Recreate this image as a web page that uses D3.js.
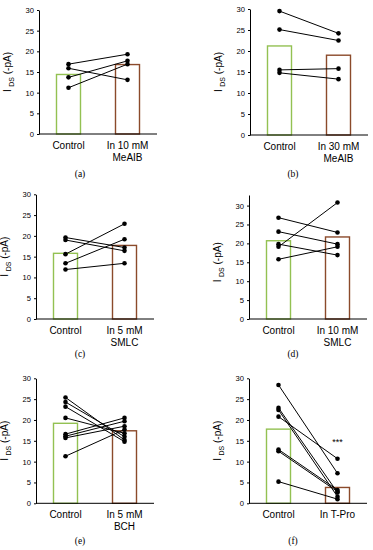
<!DOCTYPE html>
<html><head><meta charset="utf-8">
<script src="https://cdn.jsdelivr.net/npm/d3@7"></script>
<style>body{margin:0;background:#fff}svg{display:block}</style>
</head><body>
<script>
// ---- data ----
const panelLabels = ["(a)", "(b)", "(c)", "(d)", "(e)", "(f)"];
const groups = ["Control", "Treated"];
const treatLabels = [["In 10 mM", "MeAIB"], ["In 30 mM", "MeAIB"], ["In 5 mM", "SMLC"], ["In 10 mM", "SMLC"], ["In 5 mM", "BCH"], ["In T-Pro"]];
const controlMeans = [14.4, 21.2, 15.8, 20.7, 19.2, 17.8];
const treatMeans = [16.8, 19.0, 17.7, 21.7, 17.4, 3.8];
const controlCells = [
  [16.9, 15.9, 13.7, 11.2],
  [29.5, 25.1, 15.5, 14.8],
  [19.6, 19.0, 15.6, 13.4, 11.9],
  [26.8, 23.1, 19.8, 19.1, 15.8],
  [25.4, 24.3, 23.2, 20.5, 16.6, 16.1, 15.7, 11.3],
  [28.4, 22.9, 22.4, 20.8, 12.9, 12.5, 5.2]
];
const treatCells = [
  [19.3, 13.1, 17.7, 16.9],
  [24.2, 22.5, 15.8, 13.3],
  [17.2, 16.4, 22.9, 19.2, 13.4],
  [22.9, 19.8, 16.9, 30.8, 19.1],
  [15.2, 16.0, 14.8, 16.8, 20.5, 19.7, 18.5, 17.7],
  [7.2, 2.6, 1.6, 10.7, 3.2, 2.8, 1.0]
];
const yTicks = [0, 5, 10, 15, 20, 25, 30];
const significance = ["", "", "", "", "", "***"];

// ---- layout ----
const axisX = [39, 250, 36, 249, 36, 249];
const yBottom = [134, 135, 319, 319, 503.3, 503.3];
const yTopPx = [10, 9, 194.3, 195, 378.3, 378.3];
const yDomMax = [30, 30, 30, 32.8, 30, 30];
const plotW = 118;
const labelX = [80, 293, 80, 293, 80, 293];
const labelY = [177, 177, 357, 357, 544, 544];
const ctrlColor = "#93c152", trtColor = "#8b4a2b";

const svg = d3.select("body").append("svg").attr("width", 373).attr("height", 550);

panelLabels.forEach((lab, i) => {
  const g = svg.append("g");
  const x = d3.scalePoint().domain(groups).range([axisX[i], axisX[i] + plotW]).padding(0.5);
  const y = d3.scaleLinear().domain([0, yDomMax[i]]).range([yBottom[i], yTopPx[i]]);
  const bw = 24;

  const means = [controlMeans[i], treatMeans[i]];
  g.selectAll("rect.bar").data(groups).join("rect")
    .attr("x", d => x(d) - bw / 2)
    .attr("y", (d, j) => y(means[j]))
    .attr("width", bw)
    .attr("height", (d, j) => y(0) - y(means[j]))
    .attr("fill", "none")
    .attr("stroke", (d, j) => j === 0 ? ctrlColor : trtColor)
    .attr("stroke-width", 1.4);

  const pairs = controlCells[i].map((c, k) => [c, treatCells[i][k]]);
  g.selectAll("line.pair").data(pairs).join("line")
    .attr("x1", x("Control")).attr("x2", x("Treated"))
    .attr("y1", d => y(d[0])).attr("y2", d => y(d[1]))
    .attr("stroke", "#000").attr("stroke-width", 1);
  g.selectAll("circle.c").data(controlCells[i]).join("circle")
    .attr("cx", x("Control")).attr("cy", d => y(d)).attr("r", 2.3).attr("fill", "#000");
  g.selectAll("circle.t").data(treatCells[i]).join("circle")
    .attr("cx", x("Treated")).attr("cy", d => y(d)).attr("r", 2.3).attr("fill", "#000");

  const ya = g.append("g").attr("transform", `translate(${axisX[i]},0)`)
    .call(d3.axisLeft(y).tickValues(yTicks).tickSize(2).tickSizeOuter(0).tickPadding(3));
  ya.selectAll("text").attr("font-family", "Liberation Sans, Arial, sans-serif").attr("font-size", 7.6).attr("fill", "#000");
  ya.selectAll("path,line").attr("stroke", "#000");

  g.append("line").attr("x1", axisX[i]).attr("x2", axisX[i] + plotW)
    .attr("y1", y(0)).attr("y2", y(0)).attr("stroke", "#000").attr("stroke-width", 1);

  const catLines = [["Control"], treatLabels[i]];
  groups.forEach((gname, j) => {
    catLines[j].forEach((t, m) => {
      g.append("text").attr("x", x(gname)).attr("y", y(0) + 14.5 + m * 12.5)
        .attr("text-anchor", "middle").attr("font-family", "Liberation Sans, Arial, sans-serif")
        .attr("font-size", 10).attr("fill", "#000").text(t);
    });
  });

  const cy = (y(0) + y(30)) / 2;
  const tt = g.append("text").attr("transform", `translate(${axisX[i] - 28},${cy}) rotate(-90)`)
    .attr("text-anchor", "middle").attr("font-family", "Liberation Sans, Arial, sans-serif")
    .attr("font-size", 10).attr("fill", "#000");
  tt.append("tspan").text("I");
  tt.append("tspan").attr("font-size", 7).attr("dy", 2.5).attr("dx", 2.5).text("DS");
  tt.append("tspan").attr("dy", -2.5).text(" (-pA)");

  if (significance[i]) {
    g.append("text").attr("x", x("Treated")).attr("y", y(treatCells[i][3]) - 14)
      .attr("text-anchor", "middle").attr("font-family", "Liberation Sans, Arial, sans-serif")
      .attr("font-size", 9).text(significance[i]);
  }

  g.append("text").attr("x", labelX[i]).attr("y", labelY[i]).attr("text-anchor", "middle")
    .attr("font-family", "Liberation Serif, Times New Roman, serif").attr("font-size", 9.5)
    .attr("fill", "#000").text(lab);
});
</script>
</body></html>
